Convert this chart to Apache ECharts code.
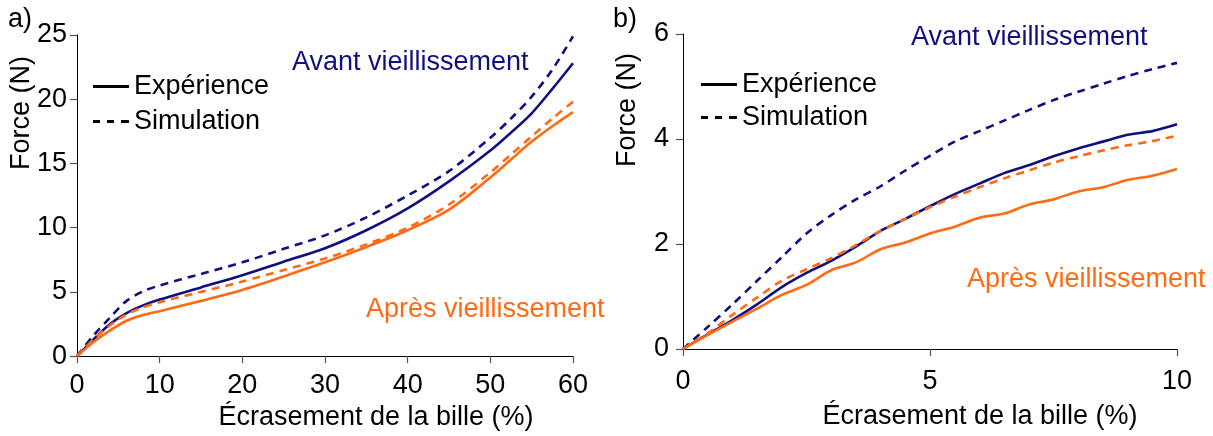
<!DOCTYPE html>
<html>
<head>
<meta charset="utf-8">
<script src="https://cdn.jsdelivr.net/npm/echarts@6/dist/echarts.min.js"></script>
<style>
html,body{margin:0;padding:0;background:#fff;}
#chart{width:1213px;height:436px;}
</style>
</head>
<body>
<div id="chart"></div>
<script>
// ---------- Data: panel a) (0–60 %) ----------
const xA = [0, 2, 4, 6, 8, 10, 15, 20, 25, 30, 35, 40, 45, 50, 52.5, 55, 57.5, 60];
const avantExpA = [0, 1.3, 2.5, 3.35, 3.95, 4.4, 5.35, 6.3, 7.35, 8.4, 9.8, 11.5, 13.6, 16.0, 17.4, 18.9, 20.8, 22.8];
const avantSimA = [0, 1.6, 3.0, 4.3, 5.05, 5.5, 6.4, 7.3, 8.35, 9.4, 10.8, 12.5, 14.4, 17.0, 18.5, 20.2, 22.3, 24.9];
const apresExpA = [0, 1.1, 2.0, 2.75, 3.2, 3.5, 4.3, 5.15, 6.2, 7.3, 8.5, 9.8, 11.4, 13.9, 15.3, 16.7, 17.9, 19.0];
const apresSimA = [0, 1.3, 2.4, 3.25, 3.8, 4.2, 5.0, 5.8, 6.7, 7.6, 8.7, 10.0, 11.8, 14.3, 15.7, 17.1, 18.5, 19.8];

// ---------- Data: panel b) (0–10 %) ----------
const xB = [0, 0.5, 1, 1.5, 2, 2.5, 3, 3.5, 4, 4.5, 5, 5.5, 6, 6.5, 7, 7.5, 8, 8.5, 9, 9.5, 10];
const avantExpB = [0, 0.28, 0.55, 0.85, 1.18, 1.45, 1.68, 1.95, 2.25, 2.48, 2.72, 2.95, 3.15, 3.35, 3.5, 3.67, 3.82, 3.95, 4.08, 4.15, 4.28];
const avantSimB = [0, 0.42, 0.85, 1.3, 1.75, 2.2, 2.55, 2.85, 3.1, 3.4, 3.68, 3.95, 4.15, 4.35, 4.55, 4.74, 4.9, 5.05, 5.2, 5.33, 5.45];
const apresExpB = [0, 0.27, 0.52, 0.77, 1.03, 1.22, 1.5, 1.65, 1.9, 2.03, 2.2, 2.33, 2.5, 2.58, 2.75, 2.85, 3.0, 3.08, 3.22, 3.3, 3.43];
const apresSimB = [0, 0.3, 0.65, 0.98, 1.3, 1.52, 1.73, 1.98, 2.25, 2.48, 2.7, 2.9, 3.08, 3.25, 3.4, 3.55, 3.67, 3.78, 3.88, 3.96, 4.06];

// ---------- Text ----------
const xTitle = 'Écrasement de la bille (%)';
const yTitle = 'Force (N)';
const legendNames = ['Expérience', 'Simulation'];
const labelAvant = 'Avant vieillissement';
const labelApres = 'Après vieillissement';

const NAVY = '#10107e';
const ORANGE = '#ff6a14';
const FONT = "'Liberation Sans', Arial, sans-serif";
const FS = 27;

function pairs(xs, ys) { return xs.map((x, i) => [x, ys[i]]); }

function lineSeries(name, xs, ys, color, dashed, idx) {
  return {
    name: name, type: 'line', xAxisIndex: idx, yAxisIndex: idx,
    data: pairs(xs, ys), symbol: 'none', silent: true,
    smooth: 0.3,
    lineStyle: { color: color, width: 2.6, type: dashed ? [8, 6] : 'solid' },
    itemStyle: { color: color }
  };
}

function xAxisCfg(idx, max, interval, padLeft, gap, margin) {
  return {
    gridIndex: idx, type: 'value', min: 0, max: max, interval: interval,
    name: xTitle, nameLocation: 'middle', nameGap: gap,
    nameTextStyle: { fontSize: FS, color: '#000', fontFamily: FONT, padding: [0, 0, 0, padLeft] },
    axisLine: { show: true, onZero: false, lineStyle: { color: '#000', width: 1 } },
    axisTick: { show: true, length: 7, lineStyle: { color: '#555', width: 1.2 } },
    axisLabel: { fontSize: FS, color: '#000', fontFamily: FONT, margin: margin },
    splitLine: { show: false }
  };
}
function yAxisCfg(idx, max, interval, margin) {
  return {
    gridIndex: idx, type: 'value', min: 0, max: max, interval: interval,
    axisLine: { show: true, onZero: false, lineStyle: { color: '#000', width: 1 } },
    axisTick: { show: true, length: 7, lineStyle: { color: '#555', width: 1.2 } },
    axisLabel: { fontSize: FS, color: '#000', fontFamily: FONT, margin: margin },
    splitLine: { show: false }
  };
}

const ICON_SOLID = 'path://M0,0h36v3h-36z';
const ICON_DASH = 'path://M0,0h7v3h-7z M14,0h7v3h-7z M28,0h8v3h-8z';

function legendCfg(left, top, gap) {
  return {
    orient: 'vertical', left: left, top: top, itemGap: gap,
    itemWidth: 36, itemHeight: 3, selectedMode: false,
    textStyle: { fontSize: FS, color: '#000', fontFamily: FONT },
    data: [
      { name: legendNames[0], icon: ICON_SOLID, itemStyle: { color: '#000' } },
      { name: legendNames[1], icon: ICON_DASH, itemStyle: { color: '#000' } }
    ]
  };
}

const option = {
  animation: false,
  backgroundColor: '#fff',
  grid: [
    { left: 77, top: 35, width: 496, height: 323 },
    { left: 683, top: 34, width: 494, height: 315 }
  ],
  xAxis: [ xAxisCfg(0, 60, 10, 102, 45, 16), xAxisCfg(1, 10, 5, 100, 54, 19) ],
  yAxis: [ yAxisCfg(0, 25, 5, 10), yAxisCfg(1, 6, 2, 14) ],
  legend: [ legendCfg(88, 68, 8), legendCfg(696, 66, 6) ],
  series: [
    { name: legendNames[0], type: 'line', xAxisIndex: 0, yAxisIndex: 0, data: [], symbol: 'none',
      lineStyle: { color: '#000', width: 2.6 }, itemStyle: { color: '#000' } },
    { name: legendNames[1], type: 'line', xAxisIndex: 0, yAxisIndex: 0, data: [], symbol: 'none',
      lineStyle: { color: '#000', width: 2.6, type: [6, 8] }, itemStyle: { color: '#000' } },
    lineSeries('a-avant-exp', xA, avantExpA, NAVY, false, 0),
    lineSeries('a-avant-sim', xA, avantSimA, NAVY, true, 0),
    lineSeries('a-apres-exp', xA, apresExpA, ORANGE, false, 0),
    lineSeries('a-apres-sim', xA, apresSimA, ORANGE, true, 0),
    lineSeries('b-avant-exp', xB, avantExpB, NAVY, false, 1),
    lineSeries('b-avant-sim', xB, avantSimB, NAVY, true, 1),
    lineSeries('b-apres-exp', xB, apresExpB, ORANGE, false, 1),
    lineSeries('b-apres-sim', xB, apresSimB, ORANGE, true, 1)
  ],
  graphic: [
    { type: 'text', left: 8, top: 6, style: { text: 'a)', fontSize: FS, fill: '#000', fontFamily: FONT } },
    { type: 'text', left: 613, top: 6, style: { text: 'b)', fontSize: FS, fill: '#000', fontFamily: FONT } },
    { type: 'text', x: 22, y: 113, rotation: Math.PI / 2,
      style: { text: yTitle, fontSize: FS, fill: '#000', fontFamily: FONT, align: 'center', verticalAlign: 'middle' } },
    { type: 'text', x: 628, y: 110, rotation: Math.PI / 2,
      style: { text: yTitle, fontSize: FS, fill: '#000', fontFamily: FONT, align: 'center', verticalAlign: 'middle' } },
    { type: 'text', x: 292, y: 63, style: { text: labelAvant, fontSize: FS, fill: NAVY, fontFamily: FONT, verticalAlign: 'middle' } },
    { type: 'text', x: 366, y: 310, style: { text: labelApres, fontSize: FS, fill: ORANGE, fontFamily: FONT, verticalAlign: 'middle' } },
    { type: 'text', x: 911, y: 38, style: { text: labelAvant, fontSize: FS, fill: NAVY, fontFamily: FONT, verticalAlign: 'middle' } },
    { type: 'text', x: 967, y: 280, style: { text: labelApres, fontSize: FS, fill: ORANGE, fontFamily: FONT, verticalAlign: 'middle' } }
  ]
};

const chart = echarts.init(document.getElementById('chart'), null, { renderer: 'canvas' });
chart.setOption(option);
</script>
</body>
</html>
